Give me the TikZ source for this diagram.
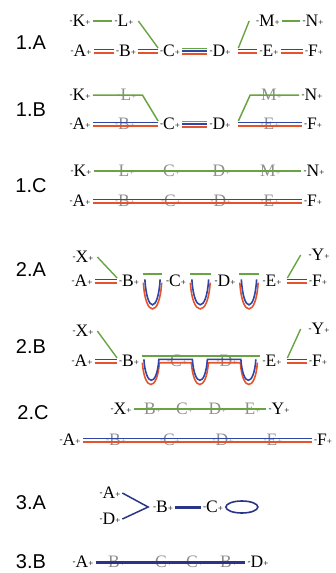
\documentclass[tikz,border=0pt]{standalone}
\usepackage{fontspec}
\setmainfont{Liberation Serif}
\newfontfamily\panelfont{Liberation Sans}
\definecolor{grncol}{HTML}{6AA341}
\definecolor{blucol}{HTML}{2F46A6}
\definecolor{redcol}{HTML}{E4532C}
\definecolor{navycol}{HTML}{2A3587}
\definecolor{ghostcol}{HTML}{8E8E8E}
% segment label: small dash, letter, small plus
\newcommand{\sgm}[1]{\raisebox{3pt}{\fontsize{9}{9}\selectfont-}#1\raisebox{1.5pt}{\fontsize{9}{9}\selectfont+}}

\begin{document}
\begin{tikzpicture}[
    x=1pt, y=-1pt,
    every node/.style={inner sep=0pt, outer sep=0pt},
    seg/.style={font=\fontsize{17.5}{17.5}\selectfont},
    ghost/.style={seg, text=ghostcol},
    panel/.style={font=\panelfont\fontsize{20}{20}\selectfont},
    gap/.style={shorten <=2.5pt, shorten >=2.5pt},
    grn/.style={draw=grncol, line width=1.5pt},
    blu/.style={draw=blucol, line width=1.6pt},
    rd/.style={draw=redcol, line width=1.6pt},
    nvy/.style={draw=navycol, line width=1.2pt},
    slash/.style={draw=grncol, line width=1.4pt},
    strandup/.style={transform canvas={yshift=1.7pt}},
    stranddn/.style={transform canvas={yshift=-1.7pt}},
    strandup2/.style={transform canvas={yshift=2.7pt}},
    stranddn2/.style={transform canvas={yshift=-2.7pt}},
    navyup/.style={transform canvas={yshift=0.9pt}},
    navydn/.style={transform canvas={yshift=-0.9pt}},
]
\useasboundingbox (0,0) rectangle (336,573);

% === 1.A ===
\node[panel] (p1a) at (31,43) {1.A};
\node[seg] (k1) at (80,21) {\sgm{K}};
\node[seg] (l1) at (124,21) {\sgm{L}};
\node[seg] (m1) at (268,21) {\sgm{M}};
\node[seg] (n1) at (313,21) {\sgm{N}};
\node[seg] (a1) at (81,51) {\sgm{A}};
\node[seg] (b1) at (126,51) {\sgm{B}};
\node[seg] (c1) at (170,51) {\sgm{C}};
\node[seg] (d1) at (220,51) {\sgm{D}};
\node[seg] (e1) at (269,51) {\sgm{E}};
\node[seg] (f1) at (314,51) {\sgm{F}};

\draw[grn, gap] (k1) -- (l1);
\draw[grn, gap] (m1) -- (n1);
\draw[blu, gap, strandup] (a1) -- (b1);
\draw[rd, gap, stranddn] (a1) -- (b1);
\draw[blu, gap, strandup] (b1) -- (c1);
\draw[rd, gap, stranddn] (b1) -- (c1);
\draw[grn, gap, strandup2] (c1) -- (d1);
\draw[blu, gap] (c1) -- (d1);
\draw[rd, gap, stranddn2] (c1) -- (d1);
\draw[blu, gap, strandup, shorten <=8pt] (d1) -- (e1);
\draw[rd, gap, stranddn, shorten <=8pt] (d1) -- (e1);
\draw[blu, gap, strandup] (e1) -- (f1);
\draw[rd, gap, stranddn] (e1) -- (f1);
\draw[slash] ([xshift=5pt]l1.east) -- ([shift={(-2,-3)}]c1.west);
\draw[slash] ([shift={(8,-3)}]d1.east) -- ([xshift=-7pt]m1.west);

% === 1.B ===
\node[panel] (p1b) at (31,110) {1.B};
\node[seg] (k2) at (80,95) {\sgm{K}};
\node[ghost] (l2) at (127,95) {\sgm{L}};
\node[ghost] (m2) at (270,95) {\sgm{M}};
\node[seg] (n2) at (312,95) {\sgm{N}};
\node[seg] (a2) at (80,124) {\sgm{A}};
\node[ghost] (b2) at (125,124) {\sgm{B}};
\node[seg] (c2) at (170,124) {\sgm{C}};
\node[seg] (d2) at (220,124) {\sgm{D}};
\node[ghost] (e2) at (270,124) {\sgm{E}};
\node[seg] (f2) at (313,124) {\sgm{F}};

\draw[grn, shorten <=2.5pt] (k2.east) -- ([xshift=6pt]l2.east) -- ([shift={(-2,-3)}]c2.west);
\draw[grn, shorten >=2.5pt] ([shift={(8,-3)}]d2.east) -- ([xshift=-8pt]m2.west) -- (n2.west);
\draw[blu, gap, strandup] (a2) -- (c2);
\draw[rd, gap, stranddn] (a2) -- (c2);
\draw[grn, gap, strandup2] (c2) -- (d2);
\draw[blu, gap] (c2) -- (d2);
\draw[rd, gap, stranddn2] (c2) -- (d2);
\draw[blu, gap, strandup, shorten <=8pt] (d2) -- (f2);
\draw[rd, gap, stranddn, shorten <=8pt] (d2) -- (f2);

% === 1.C ===
\node[panel] (p1c) at (31,186) {1.C};
\node[seg] (k3) at (81,171) {\sgm{K}};
\node[ghost] (l3) at (125,171) {\sgm{L}};
\node[ghost] (ct3) at (170,171) {\sgm{C}};
\node[ghost] (dt3) at (220,171) {\sgm{D}};
\node[ghost] (m3) at (269,171) {\sgm{M}};
\node[seg] (n3) at (314,171) {\sgm{N}};
\node[seg] (a3) at (80,201) {\sgm{A}};
\node[ghost] (b3) at (125,201) {\sgm{B}};
\node[ghost] (c3) at (171,201) {\sgm{C}};
\node[ghost] (d3) at (221,201) {\sgm{D}};
\node[ghost] (e3) at (270,201) {\sgm{E}};
\node[seg] (f3) at (313,201) {\sgm{F}};

\draw[grn, gap] (k3) -- (n3);
\draw[blu, gap, strandup] (a3) -- (f3);
\draw[rd, gap, stranddn] (a3) -- (f3);

% === 2.A ===
\node[panel] (p2a) at (31,270) {2.A};
\node[seg] (x4) at (83,257) {\sgm{X}};
\node[seg] (y4) at (319,255) {\sgm{Y}};
\node[seg] (a4) at (82,281) {\sgm{A}};
\node[seg] (b4) at (129,281) {\sgm{B}};
\node[seg] (c4) at (176,281) {\sgm{C}};
\node[seg] (d4) at (225,281) {\sgm{D}};
\node[seg] (e4) at (272,281) {\sgm{E}};
\node[seg] (f4) at (318,281) {\sgm{F}};

\draw[blu, gap, strandup] (a4) -- (b4);
\draw[rd, gap, stranddn] (a4) -- (b4);
\draw[blu, gap, strandup, shorten <=6pt] (e4) -- (f4);
\draw[rd, gap, stranddn, shorten <=6pt] (e4) -- (f4);
\draw[slash] ([xshift=4pt]x4.east) -- ([shift={(-2,-3)}]b4.west);
\draw[slash] ([xshift=-8pt]y4.west) -- ([shift={(6,-3)}]e4.east);

% loops hanging between the segments
\draw[grn] ([shift={(4,-7)}]b4.east) -- ([shift={(-4,-7)}]c4.west);
\draw[rd, stranddn] ([xshift=4.5pt]b4.east) .. controls +(2,35) and +(-2,35) .. ([xshift=-4.5pt]c4.west);
\draw[blu, strandup] ([xshift=6pt]b4.east) .. controls +(2,34) and +(-2,34) .. ([xshift=-6pt]c4.west);
\draw[grn] ([shift={(4,-7)}]c4.east) -- ([shift={(-4,-7)}]d4.west);
\draw[rd, stranddn] ([xshift=4.5pt]c4.east) .. controls +(2,35) and +(-2,35) .. ([xshift=-4.5pt]d4.west);
\draw[blu, strandup] ([xshift=6pt]c4.east) .. controls +(2,34) and +(-2,34) .. ([xshift=-6pt]d4.west);
\draw[grn] ([shift={(4,-7)}]d4.east) -- ([shift={(-4,-7)}]e4.west);
\draw[rd, stranddn] ([xshift=4.5pt]d4.east) .. controls +(2,35) and +(-2,35) .. ([xshift=-4.5pt]e4.west);
\draw[blu, strandup] ([xshift=6pt]d4.east) .. controls +(2,34) and +(-2,34) .. ([xshift=-6pt]e4.west);

% === 2.B ===
\node[panel] (p2b) at (31,347) {2.B};
\node[seg] (x5) at (83,331) {\sgm{X}};
\node[seg] (y5) at (319,329) {\sgm{Y}};
\node[seg] (a5) at (82,361) {\sgm{A}};
\node[seg] (b5) at (129,361) {\sgm{B}};
\node[ghost] (c5) at (177,361) {\sgm{C}};
\node[ghost] (d5) at (227,361) {\sgm{D}};
\node[seg] (e5) at (272,361) {\sgm{E}};
\node[seg] (f5) at (318,361) {\sgm{F}};

\draw[blu, gap, strandup] (a5) -- (b5);
\draw[rd, gap, stranddn] (a5) -- (b5);
\draw[blu, gap, strandup, shorten <=6pt] (e5) -- (f5);
\draw[rd, gap, stranddn, shorten <=6pt] (e5) -- (f5);
\draw[slash] ([xshift=4pt]x5.east) -- ([shift={(-2,-3)}]b5.west);
\draw[slash] ([xshift=-8pt]y5.west) -- ([shift={(6,-3)}]e5.east);

\draw[grn] ([shift={(3,-5)}]b5.east) -- ([shift={(-3,-5)}]e5.west);
\draw[rd, stranddn] ([xshift=3.5pt]b5.east)
    .. controls +(2,29) and +(-2,29) .. ++(17,0) -- ++(32,0)
    .. controls +(2,29) and +(-2,29) .. ++(17,0) -- ++(32,0)
    .. controls +(2,29) and +(-2,29) .. ++(17,0);
\draw[blu, strandup] ([xshift=5pt]b5.east)
    .. controls +(2,28) and +(-2,28) .. ++(15,0) -- ++(33.5,0)
    .. controls +(2,28) and +(-2,28) .. ++(15,0) -- ++(33.5,0)
    .. controls +(2,28) and +(-2,28) .. ++(15,0);

% === 2.C ===
\node[panel] (p2c) at (33,413) {2.C};
\node[seg] (x6) at (121,409) {\sgm{X}};
\node[ghost] (bt6) at (151,409) {\sgm{B}};
\node[ghost] (ct6) at (183,409) {\sgm{C}};
\node[ghost] (dt6) at (216,409) {\sgm{D}};
\node[ghost] (et6) at (251,409) {\sgm{E}};
\node[seg] (y6) at (279,409) {\sgm{Y}};
\node[seg] (a6) at (70,440) {\sgm{A}};
\node[ghost] (b6) at (116,440) {\sgm{B}};
\node[ghost] (c6) at (170,440) {\sgm{C}};
\node[ghost] (d6) at (223,440) {\sgm{D}};
\node[ghost] (e6) at (273,440) {\sgm{E}};
\node[seg] (f6) at (323,440) {\sgm{F}};

\draw[grn, gap] (x6) -- (y6);
\draw[blu, gap, strandup] (a6) -- (f6);
\draw[rd, gap, stranddn] (a6) -- (f6);

% === 3.A ===
\node[panel] (p3a) at (31,503) {3.A};
\node[seg] (a7) at (110,493) {\sgm{A}};
\node[seg] (d7) at (110,519) {\sgm{D}};
\node[seg] (b7) at (163,507) {\sgm{B}};
\node[seg] (c7) at (213,507) {\sgm{C}};

\draw[nvy, line width=1.5pt] ([xshift=2pt]a7.east) -- ([xshift=-5pt]b7.west) -- ([xshift=2pt]d7.east);
\draw[nvy, gap, navyup] (b7) -- (c7);
\draw[nvy, gap, navydn] (b7) -- (c7);
\draw[nvy, line width=1.6pt] ([xshift=19pt]c7.east) ellipse [x radius=16pt, y radius=6pt];

% === 3.B ===
\node[panel] (p3b) at (31,562) {3.B};
\node[seg] (a8) at (83,562) {\sgm{A}};
\node[ghost] (b8) at (115,562) {\sgm{B}};
\node[ghost] (c8) at (162,562) {\sgm{C}};
\node[ghost] (cc8) at (193,562) {\sgm{C}};
\node[ghost] (bb8) at (227,562) {\sgm{B}};
\node[seg] (d8) at (258,562) {\sgm{D}};

\draw[nvy, gap, navyup] (a8) -- (d8);
\draw[nvy, gap, navydn] (a8) -- (d8);

\end{tikzpicture}
\end{document}
